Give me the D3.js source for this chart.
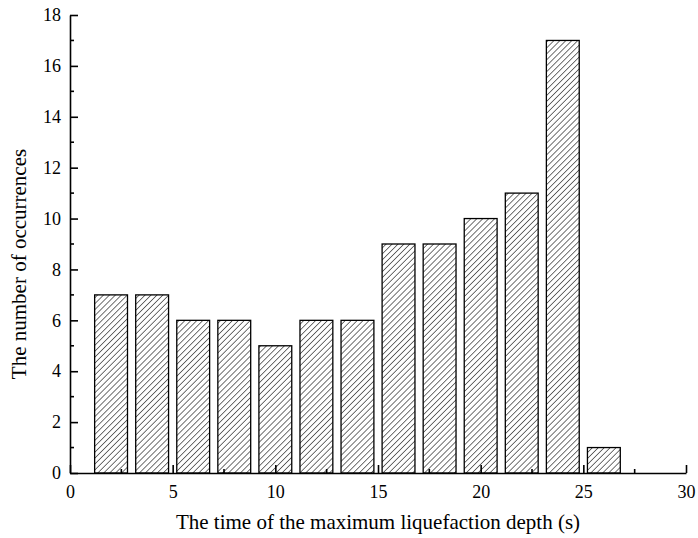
<!DOCTYPE html>
<html>
<head>
<meta charset="utf-8">
<script src="https://cdn.jsdelivr.net/npm/d3@7"></script>
<style>
  html, body { margin: 0; padding: 0; background: #fff; }
  svg { display: block; }
  svg text { font-family: "Liberation Serif", "Times New Roman", serif !important; }
</style>
</head>
<body>
<svg id="chart" width="698" height="538"></svg>
<script>
// Histogram bins: bin centre (s) and count
const binCenters = [2, 4, 6, 8, 10, 12, 14, 16, 18, 20, 22, 24, 26];
const counts     = [7, 7, 6, 6, 5, 6, 6, 9, 9, 10, 11, 17, 1];
const binWidth = 1.6;

const xTicks = [0, 5, 10, 15, 20, 25, 30];
const xMinorTicks = [2.5, 7.5, 12.5, 17.5, 22.5, 27.5];
const yTicks = [0, 2, 4, 6, 8, 10, 12, 14, 16, 18];
const yMinorTicks = [1, 3, 5, 7, 9, 11, 13, 15, 17];

const xTitle = "The time of the maximum liquefaction depth (s)";
const yTitle = "The number of occurrences";

const svg = d3.select("#chart");
const margin = { left: 70, right: 12, top: 15, bottom: 65 };
const W = 698, H = 538;

const x = d3.scaleLinear().domain([0, 30]).range([margin.left, W - margin.right]);
const y = d3.scaleLinear().domain([0, 18]).range([H - margin.bottom, margin.top]);

// Diagonal hatch fill
const defs = svg.append("defs");
const pat = defs.append("pattern")
  .attr("id", "hatch")
  .attr("patternUnits", "userSpaceOnUse")
  .attr("width", 4.2).attr("height", 4.2)
  .attr("patternTransform", "rotate(45)");
pat.append("rect").attr("width", 4.2).attr("height", 4.2).attr("fill", "#fff");
pat.append("line")
  .attr("x1", 0).attr("y1", 0).attr("x2", 0).attr("y2", 4.2)
  .attr("stroke", "#000").attr("stroke-width", 1.1);

// Bars
svg.append("g").selectAll("rect")
  .data(binCenters)
  .join("rect")
  .attr("x", (d) => x(d - binWidth / 2))
  .attr("width", (d) => x(d + binWidth / 2) - x(d - binWidth / 2))
  .attr("y", (d, i) => y(counts[i]))
  .attr("height", (d, i) => y(0) - y(counts[i]))
  .attr("fill", "url(#hatch)")
  .attr("stroke", "#000")
  .attr("stroke-width", 1.3);

// Bottom axis, ticks pointing inward
const xAxis = svg.append("g")
  .attr("transform", `translate(0,${y(0)})`)
  .call(d3.axisBottom(x).tickValues(xTicks).tickSizeInner(-8).tickSizeOuter(0).tickPadding(12)
    .tickFormat(d3.format("d")));
xAxis.attr("font-family", null).attr("font-size", null);
xAxis.select(".domain").attr("stroke-width", 1.6);
xAxis.selectAll(".tick line").attr("stroke-width", 1.6);
xAxis.selectAll(".tick text").style("font-size", "18px").attr("dy", "0.71em");
xAxis.selectAll(".minor").data(xMinorTicks).join("line")
  .attr("class", "minor")
  .attr("x1", (d) => x(d)).attr("x2", (d) => x(d))
  .attr("y1", 0).attr("y2", -4)
  .attr("stroke", "#000").attr("stroke-width", 1.6);

// Left axis, ticks pointing inward
const yAxis = svg.append("g")
  .attr("transform", `translate(${x(0)},0)`)
  .call(d3.axisLeft(y).tickValues(yTicks).tickSizeInner(-8).tickSizeOuter(0).tickPadding(9)
    .tickFormat(d3.format("d")));
yAxis.attr("font-family", null).attr("font-size", null);
yAxis.select(".domain").attr("stroke-width", 1.6);
yAxis.selectAll(".tick line").attr("stroke-width", 1.6);
yAxis.selectAll(".tick text").style("font-size", "18px");
yAxis.selectAll(".minor").data(yMinorTicks).join("line")
  .attr("class", "minor")
  .attr("x1", 0).attr("x2", 4)
  .attr("y1", (d) => y(d)).attr("y2", (d) => y(d))
  .attr("stroke", "#000").attr("stroke-width", 1.6);

// Axis titles
svg.append("text")
  .attr("x", (x(0) + x(30)) / 2).attr("y", 529)
  .attr("text-anchor", "middle")
  .style("font-size", "21px")
  .text(xTitle);

svg.append("text")
  .attr("transform", `translate(26,${(y(0) + y(18)) / 2 + 20}) rotate(-90)`)
  .attr("text-anchor", "middle")
  .style("font-size", "21px")
  .text(yTitle);
</script>
</body>
</html>
